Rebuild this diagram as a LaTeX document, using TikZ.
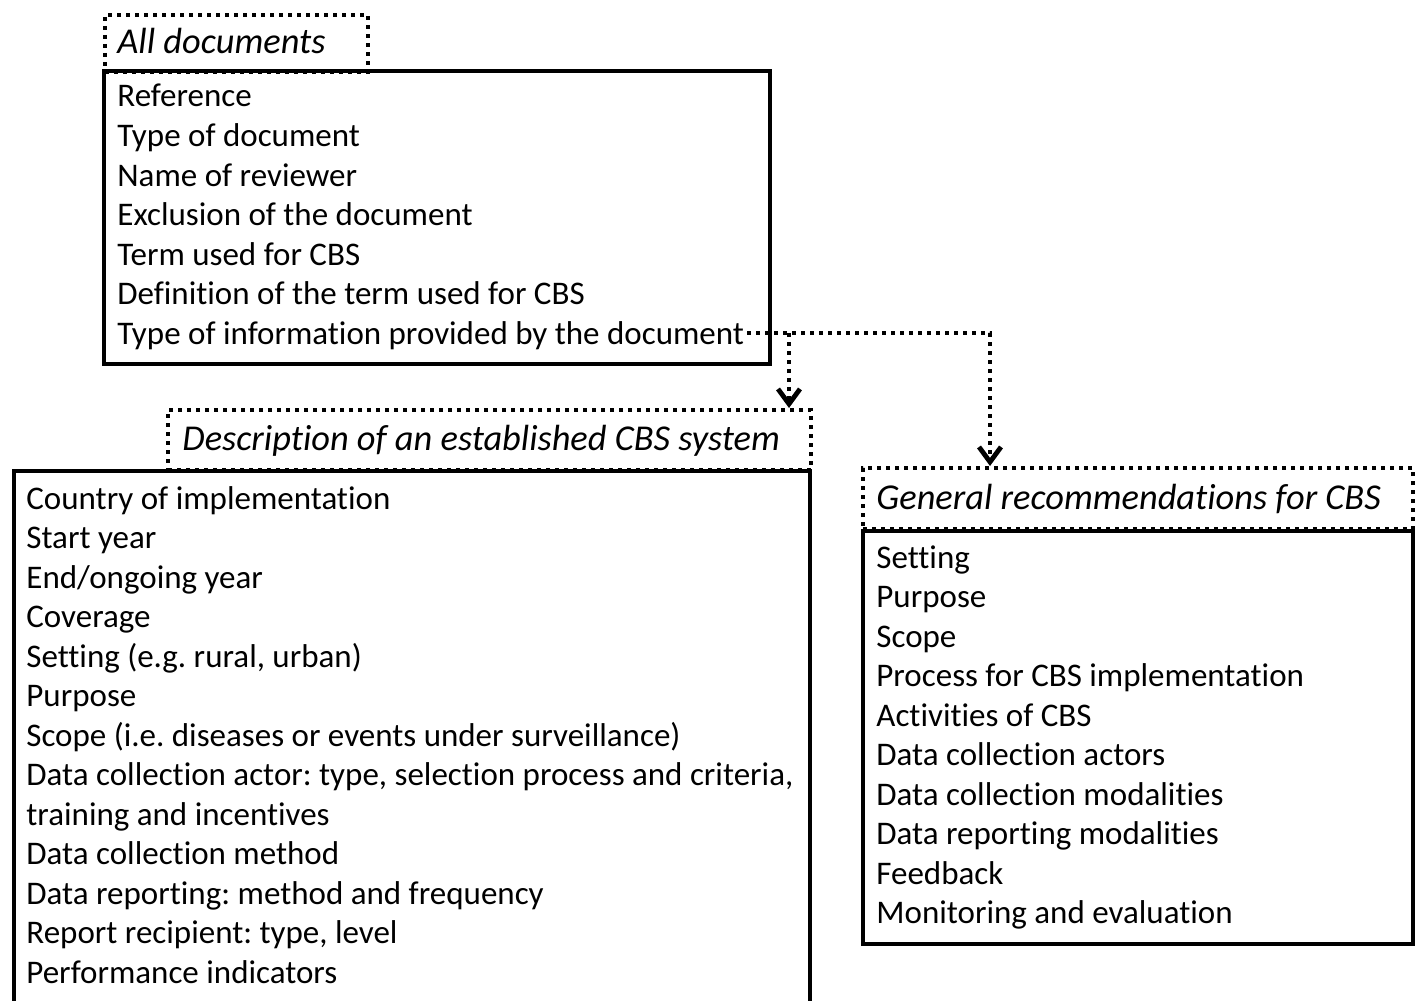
\documentclass[tikz,border=0pt]{standalone}
\usepackage{fontspec}
\setmainfont{Carlito}[Ligatures=NoCommon]
\usetikzlibrary{arrows.meta}
\frenchspacing
\tikzset{
  listbox/.style={draw,rectangle,line width=2pt,anchor=north west,inner sep=0pt},
  headbox/.style={draw,rectangle,line width=2pt,dash pattern=on 2pt off 2.5pt,anchor=north west,inner sep=0pt},
  item/.style={anchor=base west,inner sep=0pt,font=\fontsize{16.5}{19}\selectfont},
  headtext/.style={item,font=\fontsize{18.2}{21}\selectfont\itshape},
  flow/.style={line width=2pt,dash pattern=on 2pt off 2.5pt,-{Straight Barb[length=7.5pt,width=11pt,line width=2.4pt]}}
}
\begin{document}
\begin{tikzpicture}[x=0.5pt,y=-0.5pt]
\path[use as bounding box,clip] (0,0) rectangle (1416,1000);
% all documents
\node[name=all-head,headbox,minimum width=131.5pt,minimum height=28.5pt] at (103,13) {};
\node[name=all-title,headtext] at (117,54) {All documents};
\node[name=all-box,listbox,minimum width=333pt,minimum height=146.5pt] at (102,69) {};
\foreach \txt [count=\i] in {Reference,Type of document,Name of reviewer,Exclusion of the document,Term used for CBS,Definition of the term used for CBS,Type of information provided by the document}
  \node[name=all-\i,item] at (117,{107+39.5*(\i-1)}) {\txt};
% established system
\node[name=desc-head,headbox,minimum width=321.5pt,minimum height=30pt] at (166,408) {};
\node[name=desc-title,headtext] at (182,450) {Description of an established CBS system};
\node[name=desc-box,listbox,minimum width=398pt,minimum height=273pt] at (12,469) {};
\foreach \txt [count=\i] in {Country of implementation,Start year,End/ongoing year,Coverage,{Setting (e.g. rural, urban)},Purpose,Scope (i.e. diseases or events under surveillance),{Data collection actor: type, selection process and criteria,},training and incentives,Data collection method,Data reporting: method and frequency,{Report recipient: type, level},Performance indicators}
  \node[name=desc-\i,item] at (26,{509+39.5*(\i-1)}) {\txt};
% recommendations
\node[name=gen-head,headbox,minimum width=275pt,minimum height=30.5pt] at (861,466) {};
\node[name=gen-title,headtext] at (876,509) {General recommendations for CBS};
\node[name=gen-box,listbox,minimum width=275pt,minimum height=206.5pt] at (861,529) {};
\foreach \txt [count=\i] in {Setting,Purpose,Scope,Process for CBS implementation,Activities of CBS,Data collection actors,Data collection modalities,Data reporting modalities,Feedback,Monitoring and evaluation}
  \node[name=gen-\i,item] at (876,{568+39.55*(\i-1)}) {\txt};
% links
\coordinate (src) at (747,333);
\coordinate (split) at (789,333);
\coordinate (turn) at (990,333);
\draw[flow] (src) -- (turn) -- (turn |- gen-head.north);
\draw[flow] (split) -- (split |- desc-head.north);
\end{tikzpicture}
\end{document}
